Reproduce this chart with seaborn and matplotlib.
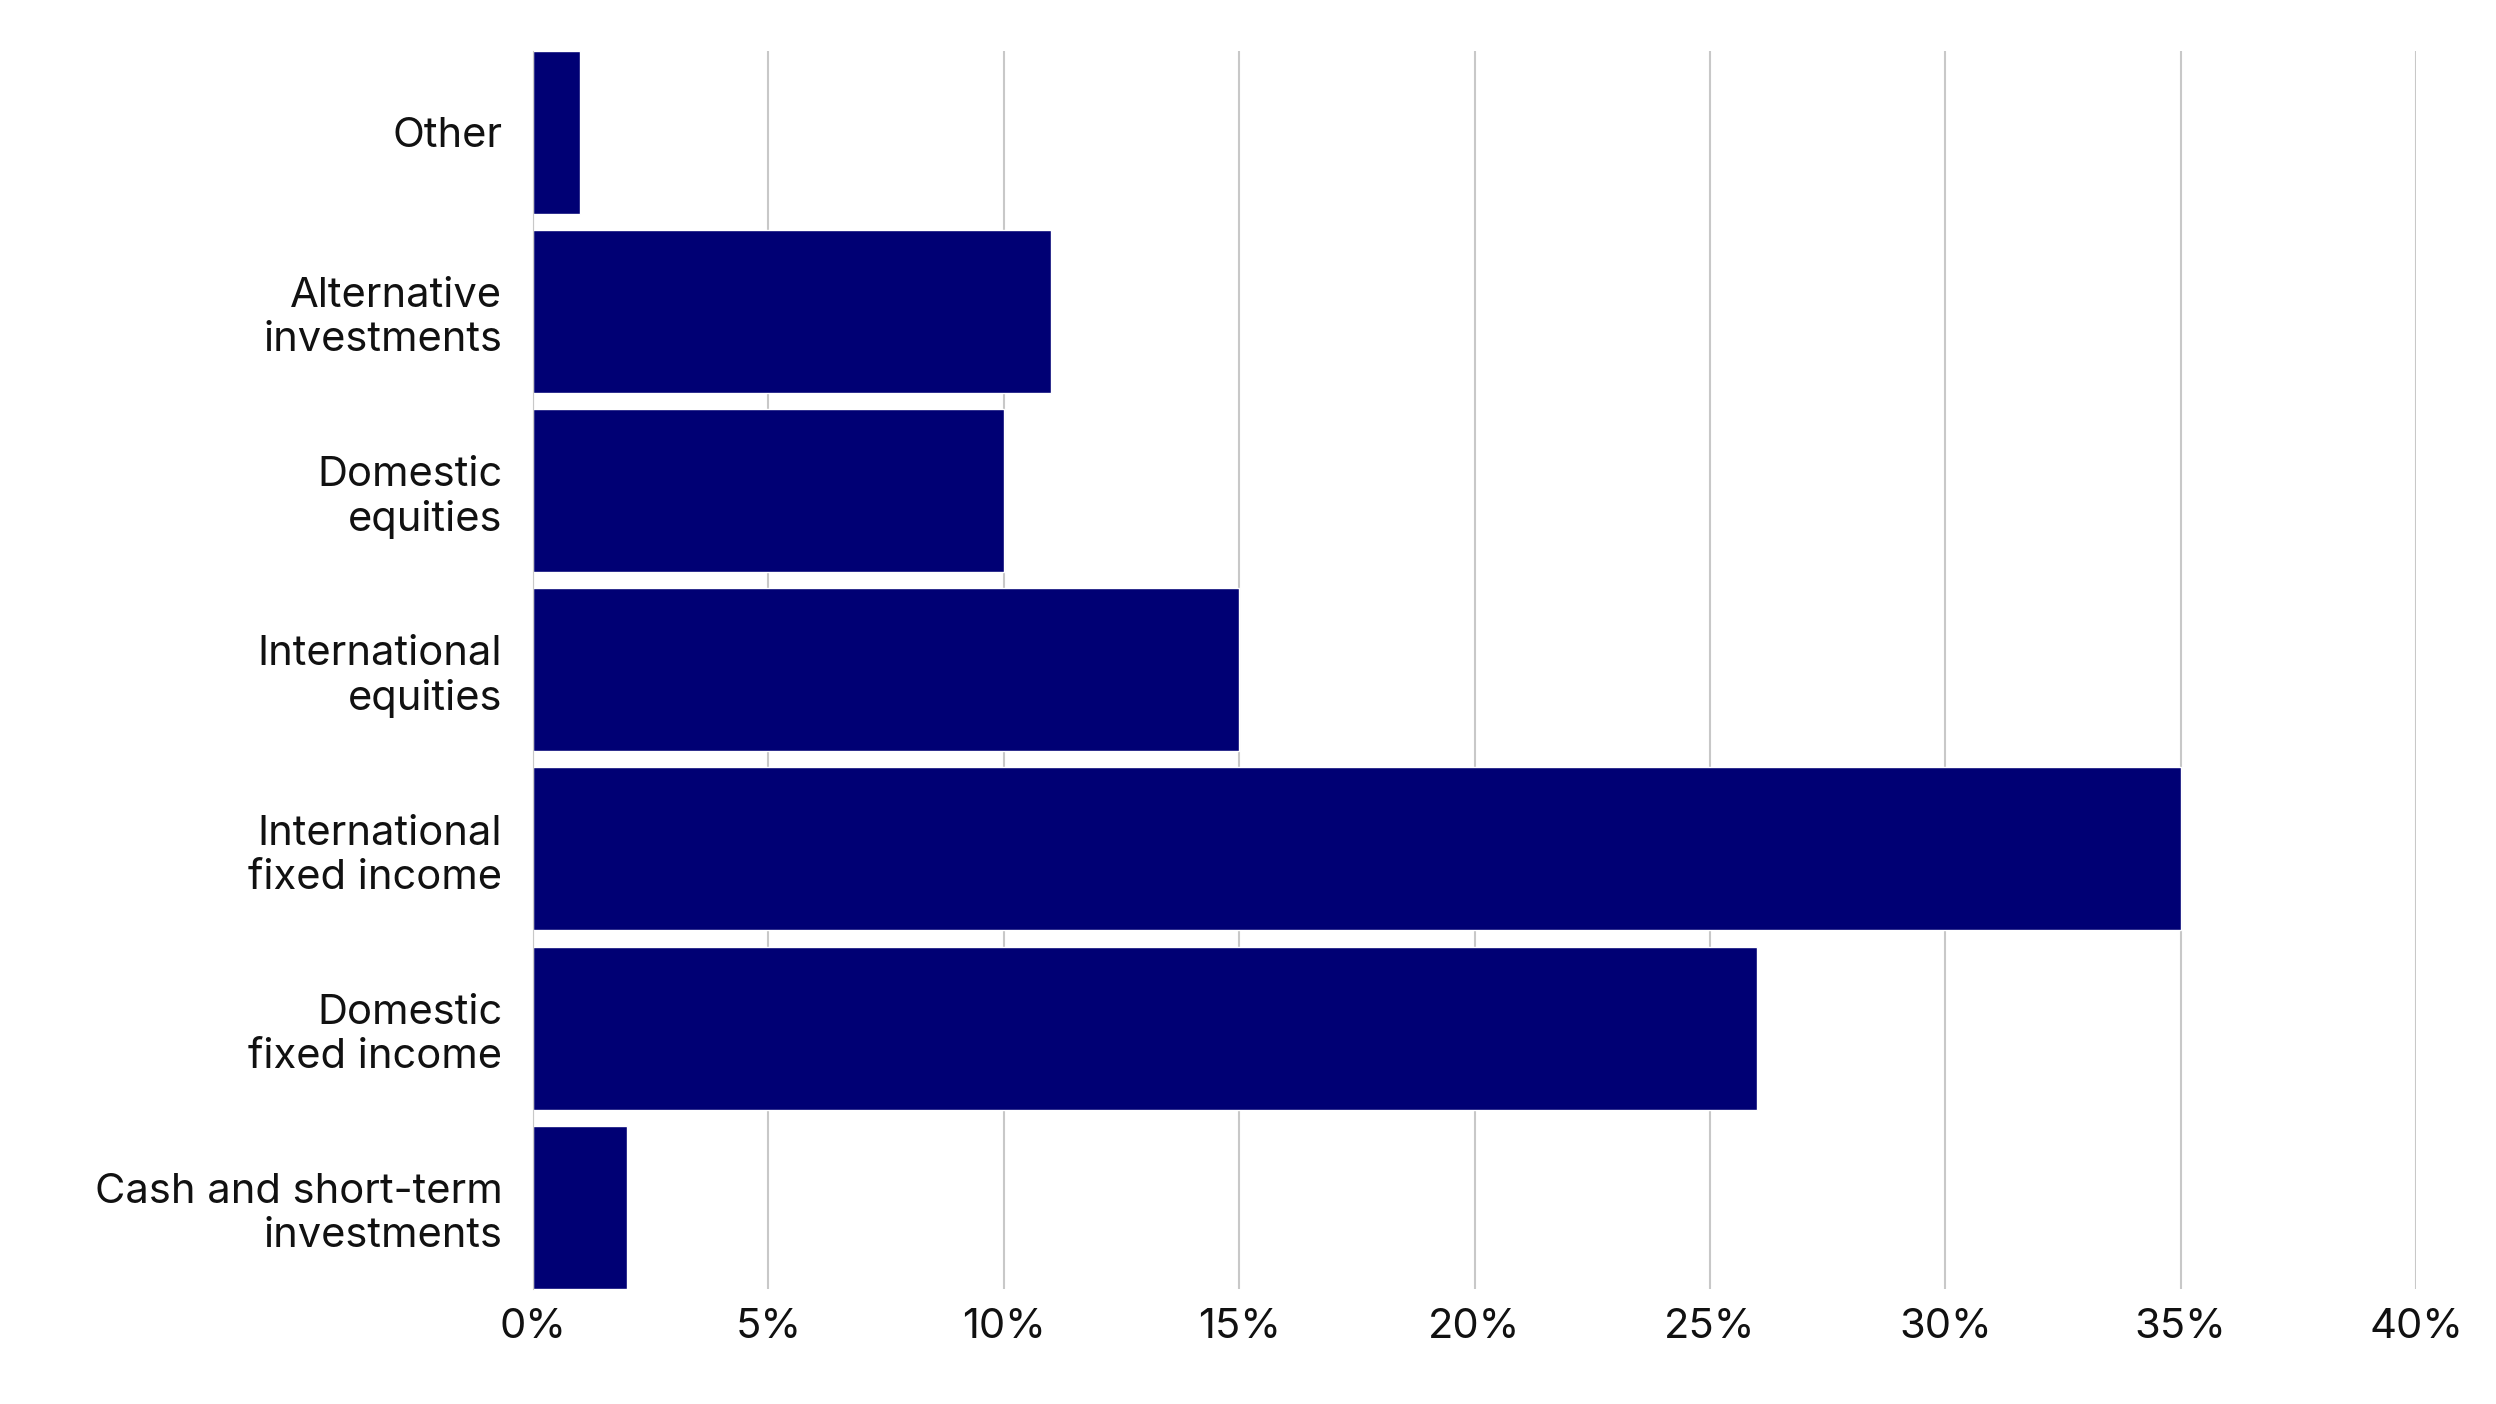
import pandas as pd
import seaborn as sns
import matplotlib.pyplot as plt
from matplotlib.ticker import PercentFormatter

categories = ['Other', 'Alternative\ninvestments', 'Domestic\nequities',
              'International\nequities', 'International\nfixed income',
              'Domestic\nfixed income', 'Cash and short-term\ninvestments']
values = [1.0, 11.0, 10.0, 15.0, 35.0, 26.0, 2.0]

df = pd.DataFrame({'category': categories, 'value': values})

sns.set_style('white')
plt.rcParams['font.family'] = ['Inter', 'DejaVu Sans']

fig = plt.figure(figsize=(24.96, 14.04), dpi=100)
ax = fig.add_axes([0.2135, 0.082, 0.7545, 0.882])
sns.barplot(data=df, x='value', y='category', color='#000074', width=0.91,
            saturation=1, ax=ax)

ax.set_xlim(0, 40)
ax.set_ylim(6.455, -0.455)
ax.set_xticks(range(0, 41, 5))
ax.xaxis.set_major_formatter(PercentFormatter(decimals=0))
ax.grid(axis='x', color='#c8c8c8', linewidth=1.5)
ax.set_axisbelow(True)
for s in ['top', 'right', 'bottom']:
    ax.spines[s].set_visible(False)
ax.spines['left'].set_color('#c8c8c8')
ax.set_xlabel('')
ax.set_ylabel('')
ax.tick_params(axis='both', labelsize=30, length=0, colors='#111111')
ax.tick_params(axis='y', pad=22)
ax.tick_params(axis='x', pad=14)

plt.savefig('out.png', dpi=100)
